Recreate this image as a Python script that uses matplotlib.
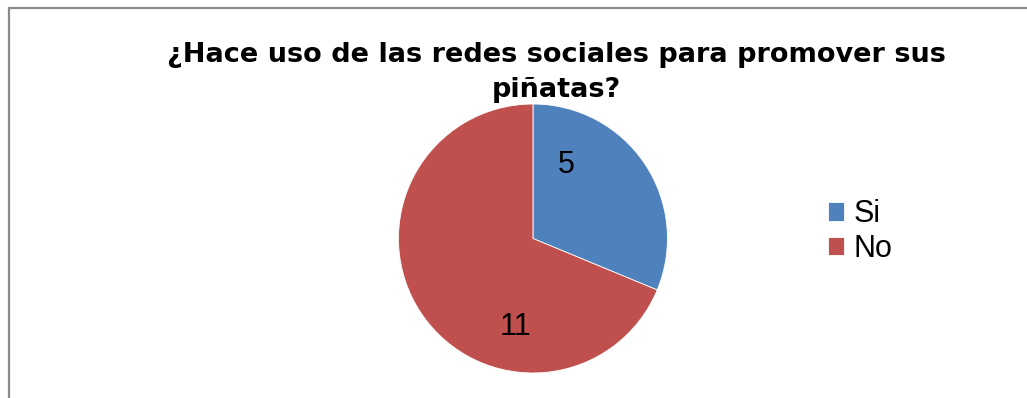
import matplotlib.pyplot as plt
from matplotlib.patches import Rectangle

plt.rcParams['font.family'] = ['Liberation Sans', 'DejaVu Sans']

labels = ['Si', 'No']
values = [5, 11]
colors = ['#4F81BD', '#C0504D']
# where each count sits inside the pie (pie radius = 1)
value_pos = [(0.25, 0.55), (-0.13, -0.66)]

fig = plt.figure(figsize=(10.27, 3.98), dpi=100)

# chart area border, open at the bottom and right
fig.patches.append(Rectangle((0.0088, -0.05), 1.2, 1.031, transform=fig.transFigure,
                             fill=False, edgecolor='#8c8c8c', linewidth=1.6))

ax = fig.add_axes([0.388, 0.0628, 0.2619, 0.6759])
wedges, _ = ax.pie(values, colors=colors, startangle=90, counterclock=False,
                   wedgeprops=dict(edgecolor='white', linewidth=0.6))
ax.set_xlim(-1, 1)
ax.set_ylim(-1, 1)
ax.set_aspect('equal')

for v, (x, y) in zip(values, value_pos):
    ax.text(x, y, str(v), ha='center', va='center', fontsize=22, color='black')

fig.text(0.542, 1 - 97 / 398, '¿Hace uso de las redes sociales para promover sus\npiñatas?',
         ha='center', va='baseline', fontsize=19.5, fontweight='bold',
         family=['DejaVu Sans'], linespacing=1.45)

fig.legend(wedges, labels, loc='center left', bbox_to_anchor=(0.794, 0.418),
           frameon=False, fontsize=22, handlelength=0.55, handleheight=0.55,
           handletextpad=0.3, labelspacing=0.15, borderaxespad=0)

fig.savefig('out.png', dpi=100)
